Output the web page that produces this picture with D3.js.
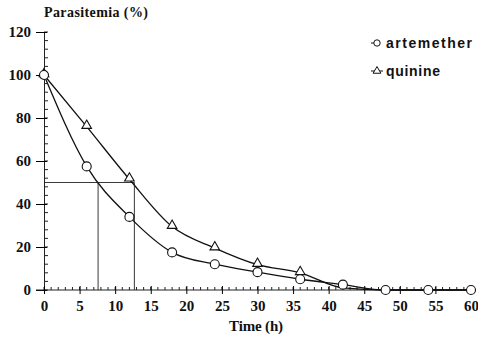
<!DOCTYPE html>
<html>
<head>
<meta charset="utf-8">
<script src="https://cdn.jsdelivr.net/npm/d3@7"></script>
<style>
  body { margin: 0; background: #fff; }
  text { fill: #111; }
</style>
</head>
<body>
<script>
// data
var hours = [0, 6, 12, 18, 24, 30, 36, 42, 48, 54, 60];
var artemether = [100, 57.5, 34, 17.5, 12, 8.3, 5, 2.5, 0, 0, 0];
var quinine = [100, 76, 51.5, 29.5, 19.5, 11.8, 8, 1, 0, 0, 0];
var xTicks = [0, 5, 10, 15, 20, 25, 30, 35, 40, 45, 50, 55, 60];
var yTicks = [0, 20, 40, 60, 80, 100, 120];
var halfTimes = [7.6, 12.7]; // 50% clearance times (artemether, quinine)

var width = 478, height = 341;
var margin = {top: 32, right: 7, bottom: 51, left: 44};
var w = width - margin.left - margin.right,
    h = height - margin.top - margin.bottom;

var x = d3.scaleLinear().domain([0, 60]).range([0, w]);
var y = d3.scaleLinear().domain([0, 120]).range([h, 0]);

var svg = d3.select("body").append("svg")
    .attr("width", width)
    .attr("height", height)
  .append("g")
    .attr("transform", "translate(" + margin.left + "," + margin.top + ")");

var serif = "'Liberation Serif', 'Times New Roman', serif";

// minor ticks
svg.append("g")
  .selectAll("line")
  .data(d3.range(0, 121, 4))
  .enter().append("line")
    .attr("x1", 0).attr("x2", 4)
    .attr("y1", function(d) { return y(d); })
    .attr("y2", function(d) { return y(d); })
    .attr("stroke", "#222");

svg.append("g")
  .selectAll("line")
  .data(d3.range(0, 61, 1))
  .enter().append("line")
    .attr("x1", function(d) { return x(d); })
    .attr("x2", function(d) { return x(d); })
    .attr("y1", h).attr("y2", h - 3)
    .attr("stroke", "#222");

// y axis
var yAxis = svg.append("g")
    .call(d3.axisLeft(y).tickValues(yTicks).tickSizeInner(8).tickSizeOuter(0).tickPadding(5));
yAxis.selectAll("line").attr("x2", -8).attr("x1", 3);
yAxis.select(".domain").attr("stroke", "#222");
yAxis.selectAll("text")
    .style("font-family", serif)
    .style("font-weight", "bold")
    .style("font-size", "15px");

// x axis
var xAxis = svg.append("g")
    .attr("transform", "translate(0," + h + ")")
    .call(d3.axisBottom(x).tickValues(xTicks).tickSizeInner(4).tickSizeOuter(0).tickPadding(6));
xAxis.selectAll("line").attr("y1", -4);
xAxis.select(".domain").attr("stroke", "#222").attr("d", "M-8,0H" + w);
xAxis.selectAll("text")
    .style("font-family", serif)
    .style("font-weight", "bold")
    .style("font-size", "15px");

// axis titles
svg.append("text")
    .attr("x", 0).attr("y", -15)
    .style("font-family", serif)
    .style("font-weight", "bold")
    .style("font-size", "14px")
    .attr("textLength", 104)
    .text("Parasitemia (%)");

svg.append("text")
    .attr("x", x(29.8)).attr("y", h + 41)
    .attr("text-anchor", "middle")
    .style("font-family", serif)
    .style("font-weight", "bold")
    .style("font-size", "15px")
    .attr("textLength", 54)
    .text("Time (h)");

// 50% guide lines
svg.append("line")
    .attr("x1", 0).attr("x2", x(halfTimes[1]))
    .attr("y1", y(50)).attr("y2", y(50))
    .attr("stroke", "#222").attr("stroke-width", 0.9);
svg.selectAll(".half")
  .data(halfTimes)
  .enter().append("line")
    .attr("class", "half")
    .attr("x1", function(d) { return x(d); })
    .attr("x2", function(d) { return x(d); })
    .attr("y1", y(50)).attr("y2", h)
    .attr("stroke", "#222").attr("stroke-width", 0.9);

// curves
var line = d3.line()
    .x(function(d) { return x(d[0]); })
    .y(function(d) { return y(d[1]); })
    .curve(d3.curveMonotoneX);

var artData = hours.map(function(t, i) { return [t, artemether[i]]; });
var quiData = hours.map(function(t, i) { return [t, quinine[i]]; });

svg.append("path").datum(quiData)
    .attr("d", line).attr("fill", "none").attr("stroke", "#111").attr("stroke-width", 1.3);
svg.append("path").datum(artData)
    .attr("d", line).attr("fill", "none").attr("stroke", "#111").attr("stroke-width", 1.3);

var tri = d3.symbol().type(d3.symbolTriangle).size(40);

svg.selectAll(".tri")
  .data(quiData.filter(function(d) { return d[0] <= 36; }))
  .enter().append("path")
    .attr("class", "tri")
    .attr("d", tri)
    .attr("transform", function(d) { return "translate(" + x(d[0]) + "," + (y(d[1]) - 1) + ")"; })
    .attr("fill", "#fff").attr("stroke", "#111").attr("stroke-width", 1.1);

svg.selectAll(".circ")
  .data(artData)
  .enter().append("circle")
    .attr("class", "circ")
    .attr("cx", function(d) { return x(d[0]); })
    .attr("cy", function(d) { return y(d[1]); })
    .attr("r", 4.5)
    .attr("fill", "#fff").attr("stroke", "#111").attr("stroke-width", 1.1);

// legend
var legend = [
  {name: "artemether", type: "circle", len: 86},
  {name: "quinine", type: "triangle", len: 54}
];
var lg = svg.selectAll(".lg")
  .data(legend)
  .enter().append("g")
    .attr("class", "lg")
    .attr("transform", function(d, i) { return "translate(" + (377 - margin.left) + "," + (43 - margin.top + i * 28) + ")"; });
lg.append("line")
    .attr("x1", -6).attr("x2", function(d) { return d.type === "circle" ? 0 : 6; })
    .attr("stroke", "#111");
lg.append("path")
    .attr("d", function(d) {
      return d.type === "circle"
        ? d3.symbol().type(d3.symbolCircle).size(32)()
        : d3.symbol().type(d3.symbolTriangle).size(26)();
    })
    .attr("fill", "#fff").attr("stroke", "#111");
lg.append("text")
    .attr("x", 9).attr("y", 5)
    .style("font-family", "'Liberation Sans', Arial, sans-serif")
    .style("font-weight", "bold")
    .style("font-size", "14px")
    .attr("textLength", function(d) { return d.len; })
    .text(function(d) { return d.name; });
</script>
</body>
</html>
